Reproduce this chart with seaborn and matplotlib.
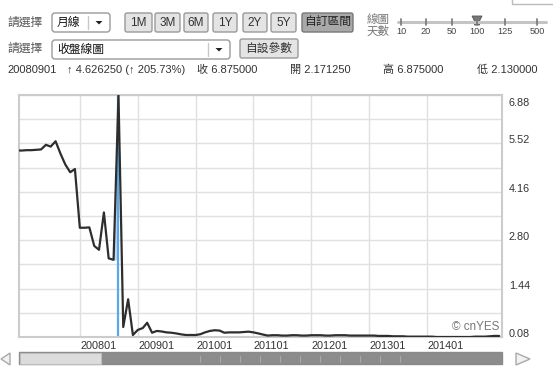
import numpy as np
import pandas as pd
import matplotlib
matplotlib.use('Agg')
import matplotlib.pyplot as plt
from matplotlib.patches import Rectangle, FancyBboxPatch, Polygon
from matplotlib.transforms import ScaledTranslation
import seaborn as sns

# ---------------- data ----------------
start_month = '2006-12-01'
close_values = [
    5.32, 5.32, 5.33, 5.33, 5.34, 5.35, 5.48, 5.43, 5.58, 5.23, 4.93, 4.71, 4.80,   # 2006-12 .. 2007-12
    3.15, 3.15, 3.16, 2.64, 2.53, 3.58, 2.29, 2.249, 6.875, 0.36, 1.14, 0.136,     # 2008
    0.28, 0.33, 0.48, 0.20, 0.25, 0.235, 0.21, 0.20, 0.18, 0.155, 0.136, 0.136,     # 2009
    0.135, 0.16, 0.21, 0.25, 0.27, 0.26, 0.20, 0.21, 0.21, 0.21, 0.22, 0.23,        # 2010
    0.21, 0.18, 0.15, 0.12, 0.13, 0.13, 0.12, 0.12, 0.13, 0.13, 0.12, 0.12,         # 2011
    0.13, 0.13, 0.13, 0.12, 0.12, 0.13, 0.13, 0.13, 0.12, 0.12, 0.12, 0.12,         # 2012
    0.12, 0.12, 0.11, 0.11, 0.11, 0.10, 0.10, 0.10, 0.09, 0.09, 0.09, 0.09,         # 2013
    0.09, 0.09, 0.08, 0.08, 0.08, 0.08, 0.08, 0.08, 0.08, 0.08, 0.09, 0.09,         # 2014
    0.09, 0.10, 0.11, 0.11,                                                         # 2015
]
highlight_month = '2008-09-01'
prev_close = 2.249
y_ticks = [0.08, 1.44, 2.80, 4.16, 5.52, 6.88]
y_minor = [0.76, 2.12, 3.48, 4.84, 6.20]
x_tick_dates = ['2008-01-01', '2009-01-01', '2010-01-01', '2011-01-01',
                '2012-01-01', '2013-01-01', '2014-01-01']
x_tick_labels = ['200801', '200901', '201001', '201101', '201201', '201301', '201401']
period_buttons = ['1M', '3M', '6M', '1Y', '2Y', '5Y']
custom_button = '自訂區間'
slider_labels = ['10', '20', '50', '100', '125', '500']
select_label = '請選擇'
freq_choice = '月線'
chart_choice = '收盤線圖'
param_button = '自設參數'
days_label = '線圖\n天數'
info_texts = ['20080901', '↑ 4.626250 (↑ 205.73%)', '收 6.875000',
              '開 2.171250', '高 6.875000', '低 2.130000']
watermark = '© cnYES'

# ---------------- style ----------------
sns.set_theme(style='white')
plt.rcParams['font.family'] = ['Liberation Sans', 'Noto Sans CJK TC', 'DejaVu Sans']

W, H = 553, 366
fig = plt.figure(figsize=(W / 100, H / 100), dpi=100)
fig.patch.set_facecolor('white')

# UI overlay in pixel coordinates
ui = fig.add_axes([0, 0, 1, 1])
ui.set_xlim(0, W)
ui.set_ylim(H, 0)
ui.axis('off')

TXT = '#333333'
CJK = 8.5


def button(x0, x1, y0, y1, label, fc='#e4e4e4', ec='#9a9a9a', tc=TXT, fs=8.5):
    ui.add_patch(FancyBboxPatch((x0, y0), x1 - x0, y1 - y0,
                                boxstyle='round,pad=0,rounding_size=2',
                                fc=fc, ec=ec, lw=1))
    ui.text((x0 + x1) / 2, (y0 + y1) / 2 + 0.5, label, ha='center', va='center',
            fontsize=fs, color=tc)


def dropdown(x0, x1, y0, y1, label, sep):
    ui.add_patch(FancyBboxPatch((x0, y0), x1 - x0, y1 - y0,
                                boxstyle='round,pad=0,rounding_size=3',
                                fc='white', ec='#9a9a9a', lw=1))
    ui.plot([sep, sep], [y0 + 3, y1 - 3], color='#c8c8c8', lw=1)
    ax_ = (sep + x1) / 2
    ym = (y0 + y1) / 2
    ui.add_patch(Polygon([(ax_ - 3.5, ym - 1.5), (ax_ + 3.5, ym - 1.5), (ax_, ym + 2)],
                         closed=True, fc='#222222', ec='none'))
    ui.text(x0 + 5, ym + 0.5, label, ha='left', va='center', fontsize=CJK, color='#111111')


# row 1
ui.text(7, 23, select_label, ha='left', va='center', fontsize=CJK, color='#555555')
dropdown(52, 110, 13, 32, freq_choice, 88)
btn_x = [(125, 152), (155, 180), (184, 208), (213, 237), (243, 267), (271, 296)]
for (x0, x1), lab in zip(btn_x, period_buttons):
    button(x0, x1, 13, 32, lab)
button(302, 353, 13, 32, custom_button, fc='#a9a9a9', ec='#777777', tc='#222222', fs=CJK)
ui.text(367, 26, days_label, ha='left', va='center', fontsize=8.3, color='#777777',
        linespacing=0.9)
# slider
ui.plot([398, 546], [22, 22], color='#c4c4c4', lw=2.2, solid_capstyle='round')
slider_x = [401, 426, 452, 477, 505, 537]
for sx, lab in zip(slider_x, slider_labels):
    ui.plot([sx, sx], [19, 25], color='#777777', lw=1.2)
    ui.text(sx, 32, lab, ha='center', va='center', fontsize=6.6, color='#444444')
ui.add_patch(Polygon([(472, 16), (482, 16), (479.5, 21), (479.5, 25), (474.5, 25), (474.5, 21)],
                     closed=True, fc='#777777', ec='#555555', lw=0.6))
ui.add_patch(Rectangle((512, -4), 45, 8, fc='white', ec='#bbbbbb', lw=1))

# row 2
ui.text(7, 49, select_label, ha='left', va='center', fontsize=CJK, color='#555555')
dropdown(52, 230, 40, 59, chart_choice, 208)
button(240, 298, 39, 58, param_button, fs=CJK)

# row 3
info_x = [7, 67, 197, 290, 383, 477]
for ix, t in zip(info_x, info_texts):
    ui.text(ix, 70, t, ha='left', va='center', fontsize=8, color=TXT)

# scrollbar
ui.add_patch(Rectangle((19, 352), 483, 12, fc='#8c8c8c', ec='#8a8a8a', lw=1))
ui.add_patch(Rectangle((19.5, 352.5), 81, 11, fc='#dcdcdc', ec='#bdbdbd', lw=0.8))
for tx in range(200, 401, 20):
    ui.plot([tx, tx], [356, 362], color='#a8a8a8', lw=0.8)
ui.add_patch(Polygon([(10, 353), (1, 359), (10, 365)], closed=True, fc='#f2f2f2',
                     ec='#aaaaaa', lw=1))
ui.add_patch(Polygon([(516, 353), (530, 359), (516, 365)], closed=True, fc='#f2f2f2',
                     ec='#aaaaaa', lw=1))

# ---------------- main chart ----------------
ax = fig.add_axes([19 / W, 1 - 337 / H, (502 - 19) / W, (337 - 95) / H])
dates = pd.date_range(start_month, periods=len(close_values), freq='MS')
df = pd.DataFrame({'date': dates, 'close': close_values})

hl = pd.Timestamp(highlight_month)
prev = hl - pd.DateOffset(months=1)
ax.fill_between([prev, hl], [prev_close, prev_close], [prev_close, max(close_values)],
                color='#b9dbf5', lw=0, zorder=1)
ax.axvline(hl, color='#5aa9e6', lw=1.6, zorder=2)
sns.lineplot(data=df, x='date', y='close', ax=ax, color='#2e2e2e', lw=1.6, zorder=3)

ax.set_xlim(pd.Timestamp('2006-12-13'), pd.Timestamp('2015-04-19'))
ax.set_ylim(0.08, 6.88)
ax.set_xlabel('')
ax.set_ylabel('')

ax.set_yticks(y_ticks, labels=[f'{v:.2f}' for v in y_ticks])
ax.set_yticks(y_minor, minor=True)
ax.yaxis.tick_right()
ax.set_xticks(pd.to_datetime(x_tick_dates), labels=x_tick_labels)
ax.grid(True, which='both', axis='y', color='#e0e0e0', lw=1)
ax.grid(True, which='major', axis='x', color='#e0e0e0', lw=1)
ax.tick_params(axis='both', which='both', length=0, labelsize=7.8, colors=TXT)
ax.tick_params(axis='y', pad=5)
ax.tick_params(axis='x', pad=3)

for lbl in ax.get_xticklabels():
    lbl.set_horizontalalignment('left')
    lbl.set_transform(lbl.get_transform() + ScaledTranslation(0.5 / 100, 0, fig.dpi_scale_trans))
for lbl in ax.get_yticklabels():
    if lbl.get_text() == '6.88':
        lbl.set_verticalalignment('top')
        lbl.set_transform(lbl.get_transform() + ScaledTranslation(0, -3 / 100, fig.dpi_scale_trans))
    else:
        lbl.set_transform(lbl.get_transform() + ScaledTranslation(0, 4 / 100, fig.dpi_scale_trans))

for sp in ax.spines.values():
    sp.set_visible(True)
    sp.set_color('#cccccc')
    sp.set_linewidth(1.5)

ax.text(0.995, 0.015, watermark, transform=ax.transAxes, ha='right', va='bottom',
        fontsize=8.4, color='#777777')

fig.savefig('out.png', dpi=100, facecolor='white')
